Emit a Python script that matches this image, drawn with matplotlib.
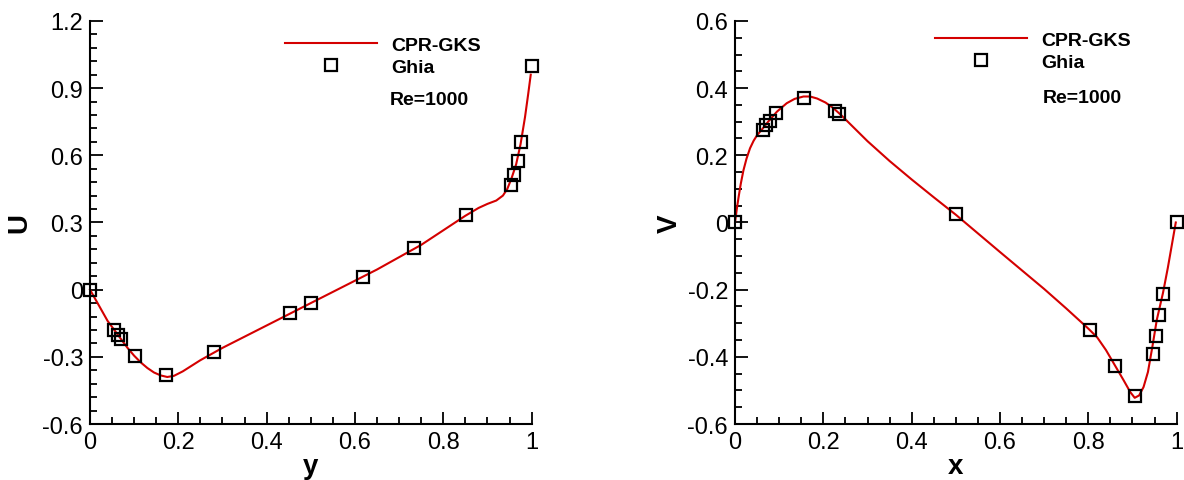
import numpy as np
import matplotlib.pyplot as plt
from matplotlib.ticker import MultipleLocator, FormatStrFormatter

plt.rcParams['font.family'] = ['Liberation Sans', 'DejaVu Sans']

# Ghia et al. (1982), Re=1000
ghia_y = [0.0000, 0.0547, 0.0625, 0.0703, 0.1016, 0.1719, 0.2813, 0.4531, 0.5000,
          0.6172, 0.7344, 0.8516, 0.9531, 0.9609, 0.9688, 0.9766, 1.0000]
ghia_u = [0.00000, -0.18109, -0.20196, -0.22220, -0.29730, -0.38289, -0.27805, -0.10648,
          -0.06080, 0.05702, 0.18719, 0.33304, 0.46604, 0.51117, 0.57492, 0.65928, 1.00000]
ghia_x = [0.0000, 0.0625, 0.0703, 0.0781, 0.0938, 0.1563, 0.2266, 0.2344, 0.5000,
          0.8047, 0.8594, 0.9063, 0.9453, 0.9531, 0.9609, 0.9688, 1.0000]
ghia_v = [0.00000, 0.27485, 0.29012, 0.30353, 0.32627, 0.37095, 0.33075, 0.32235, 0.02526,
          -0.31966, -0.42665, -0.51550, -0.39188, -0.33714, -0.27669, -0.21388, 0.00000]

# CPR-GKS
cpr_y = [0.0, 0.02, 0.04, 0.055, 0.07, 0.085, 0.1, 0.115, 0.13, 0.145, 0.16, 0.175, 0.19,
         0.21, 0.25, 0.3, 0.35, 0.4, 0.45, 0.5, 0.55, 0.6, 0.65, 0.7, 0.75, 0.8, 0.85,
         0.88, 0.9, 0.92, 0.935, 0.945, 0.955, 0.965, 0.975, 0.985, 0.992, 0.998]
cpr_u = [0.0, -0.07, -0.14, -0.18, -0.22, -0.26, -0.295, -0.325, -0.35, -0.37, -0.383, -0.39,
         -0.385, -0.365, -0.315, -0.26, -0.21, -0.16, -0.11, -0.06, -0.01, 0.04, 0.09,
         0.145, 0.2, 0.265, 0.33, 0.365, 0.383, 0.398, 0.42, 0.45, 0.5, 0.56, 0.65, 0.77,
         0.87, 0.96]
cpr_x = [0.0, 0.004, 0.008, 0.013, 0.019, 0.026, 0.034, 0.042, 0.05, 0.061, 0.075, 0.095,
         0.117, 0.135, 0.155, 0.17, 0.186, 0.205, 0.223, 0.24, 0.26, 0.28, 0.3, 0.35, 0.4,
         0.45, 0.5, 0.6, 0.7, 0.75, 0.8, 0.82, 0.84, 0.86, 0.88, 0.895, 0.905, 0.915, 0.925,
         0.935, 0.945, 0.955, 0.969, 0.98, 0.99, 0.998]
cpr_v = [0.0, 0.04, 0.075, 0.115, 0.155, 0.19, 0.221, 0.243, 0.26, 0.277, 0.3, 0.33,
         0.355, 0.368, 0.375, 0.375, 0.369, 0.357, 0.34, 0.32, 0.294, 0.268, 0.242, 0.183,
         0.128, 0.075, 0.023, -0.088, -0.198, -0.256, -0.316, -0.342, -0.38, -0.425, -0.47,
         -0.505, -0.522, -0.515, -0.49, -0.445, -0.37, -0.29, -0.21, -0.135, -0.06, 0.0]

red = '#d40000'
tick_fs = 17

fig = plt.figure(figsize=(11.84, 4.81), dpi=100)
ax1 = fig.add_axes([0.076, 0.1164, 0.373, 0.838])
ax2 = fig.add_axes([0.6208, 0.1164, 0.373, 0.838])


def style(ax, xlabel, ylabel, ylim, ymaj, ymin, ylpad):
    ax.set_xlim(0, 1)
    ax.set_ylim(*ylim)
    ax.spines['top'].set_visible(False)
    ax.spines['right'].set_visible(False)
    for s in ('left', 'bottom'):
        ax.spines[s].set_linewidth(1.5)
    ax.xaxis.set_major_locator(MultipleLocator(0.2))
    ax.xaxis.set_minor_locator(MultipleLocator(0.05))
    ax.yaxis.set_major_locator(MultipleLocator(ymaj))
    ax.yaxis.set_minor_locator(MultipleLocator(ymin))
    ax.xaxis.set_major_formatter(FormatStrFormatter('%g'))
    ax.yaxis.set_major_formatter(FormatStrFormatter('%g'))
    ax.tick_params(which='both', direction='in', width=1.3, labelsize=tick_fs,
                   top=False, right=False)
    ax.tick_params(which='major', length=9, pad=5)
    ax.tick_params(which='minor', length=5)
    ax.set_xlabel(xlabel, fontsize=20, fontweight='bold', labelpad=0)
    ax.set_ylabel(ylabel, fontsize=20, fontweight='bold', labelpad=ylpad)


for ax, xs, ys, gx, gy, lx, ly in [(ax1, cpr_y, cpr_u, ghia_y, ghia_u, 0.401, 1.006),
                                   (ax2, cpr_x, cpr_v, ghia_x, ghia_v, 0.413, 1.018)]:
    ax.plot(xs, ys, color=red, lw=1.5, label='CPR-GKS', clip_on=False)
    ax.plot(gx, gy, ls='none', marker='s', ms=9, mfc='none', mec='black', mew=1.6,
            label='Ghia', clip_on=False)
    ax.legend(loc='upper left', bbox_to_anchor=(lx, ly), frameon=False,
              handlelength=4.75, handletextpad=0.72, labelspacing=0.25,
              prop={'weight': 'bold', 'size': 14})

style(ax1, 'y', 'U', (-0.6, 1.2), 0.3, 0.06, 7)
style(ax2, 'x', 'V', (-0.6, 0.6), 0.2, 0.05, 3)

ax1.text(0.679, 0.806, 'Re=1000', transform=ax1.transAxes, fontsize=14,
         fontweight='bold', va='center')
ax2.text(0.697, 0.81, 'Re=1000', transform=ax2.transAxes, fontsize=14,
         fontweight='bold', va='center')

fig.savefig('out.png', dpi=100)
